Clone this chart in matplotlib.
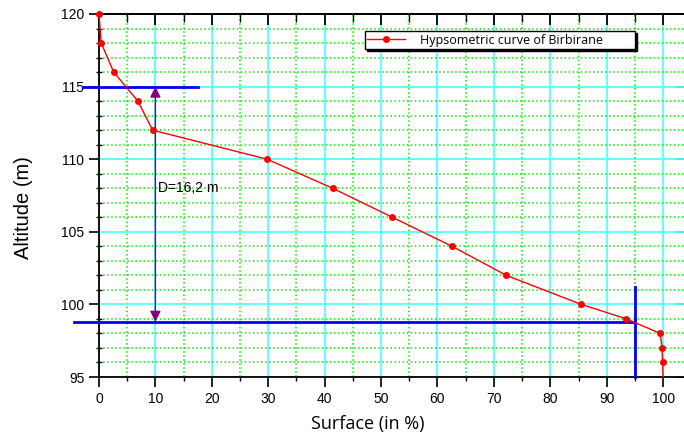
import matplotlib
matplotlib.use('Agg')
import matplotlib.pyplot as plt
from matplotlib.ticker import MultipleLocator

plt.rcParams['font.family'] = ['Liberation Sans', 'DejaVu Sans']

# hypsometric curve data (surface %, altitude m)
surface = [0.0, 0.4, 2.6, 6.9, 9.5, 29.8, 41.4, 52.0, 62.6, 72.2, 85.5, 93.5, 99.5, 99.8, 99.9, 100.0]
altitude = [120, 118, 116, 114, 112, 110, 108, 106, 104, 102, 100, 99, 98, 97, 96, 95]

# reading lines
h_top = 115.0
h_bottom = 98.8
x_arrow = 10
x_95 = 95
diff_label = 'D=16,2 m'

fig = plt.figure(figsize=(6.84, 4.41), dpi=100)
ax = fig.add_axes([0.1447, 0.1451, 0.8553, 0.8232])

ax.set_xlim(0, 103.7)
ax.set_ylim(95, 120)

# grid
ax.xaxis.set_major_locator(MultipleLocator(10))
ax.xaxis.set_minor_locator(MultipleLocator(5))
ax.yaxis.set_major_locator(MultipleLocator(5))
ax.yaxis.set_minor_locator(MultipleLocator(1))
ax.grid(which='minor', color='#00ee00', linestyle=':', linewidth=1.1)
ax.grid(which='major', color='#55ffff', linestyle='-', linewidth=1.3)
ax.set_axisbelow(True)

for s in ['left', 'bottom', 'top']:
    ax.spines[s].set_linewidth(1.3)
ax.spines['right'].set_visible(False)

ax.tick_params(which='major', direction='out', length=7, width=1.2, labelsize=10)
ax.tick_params(axis='y', which='minor', direction='inout', length=5, width=1.0)
ax.tick_params(axis='x', which='minor', direction='out', length=3, width=1.0)

# inward ticks on top edge
top = ax.secondary_xaxis('top')
top.xaxis.set_major_locator(MultipleLocator(10))
top.xaxis.set_minor_locator(MultipleLocator(5))
top.tick_params(which='major', direction='in', length=8, width=1.3, color='black', labeltop=False)
top.tick_params(which='minor', direction='in', length=6, width=1.0, color='black')
top.spines['top'].set_linewidth(1.3)
top.set_zorder(8)

# inward ticks on right edge
right = ax.secondary_yaxis('right')
right.yaxis.set_major_locator(MultipleLocator(5))
right.tick_params(which='major', direction='in', length=6, width=1.2, labelright=False)
right.spines['right'].set_visible(False)

ax.plot(surface, altitude, color='red', linewidth=1.0, marker='o', markersize=4,
        markevery=list(range(len(surface) - 1)), label='Hypsometric curve of Birbirane         ',
        zorder=9, clip_on=False)

# blue reading lines
ax.plot([-2.8, 17.6], [h_top, h_top], color='#0000ee', linewidth=2, clip_on=False, zorder=6)
ax.plot([-4.4, x_95], [h_bottom, h_bottom], color='#0000ee', linewidth=2, clip_on=False, zorder=6)
ax.plot([x_95, x_95], [95, 101.2], color='#0000ee', linewidth=2, clip_on=False, zorder=6)

# difference arrow
ax.annotate('', xy=(x_arrow, h_top), xytext=(x_arrow, h_bottom),
            arrowprops=dict(arrowstyle='<|-|>', color='#800080', lw=1.0,
                            mutation_scale=16, shrinkA=0, shrinkB=0), zorder=7)
ax.text(x_arrow + 0.5, 108.0, diff_label, fontsize=10, va='center', ha='left')

ax.set_ylabel('Altitude (m)', fontsize=14.5)
ax.yaxis.set_label_coords(-0.113, 0.468)
ax.set_xlabel('Surface (in %)', fontsize=13, family='Open Sans')
ax.xaxis.set_label_coords(0.46, -0.105)

leg = ax.legend(loc='upper left', bbox_to_anchor=(0.4547, 0.953), borderaxespad=0,
                prop={'family': 'Open Sans', 'size': 9}, frameon=True, fancybox=False,
                shadow={'color': 'black', 'alpha': 1.0, 'ox': 1.5, 'oy': -1.5}, borderpad=0.2,
                handlelength=3.0, handletextpad=1.2)
leg.get_frame().set_edgecolor('black')
leg.get_frame().set_linewidth(1.0)
leg.set_zorder(10)

fig.savefig('out.png', dpi=100)
